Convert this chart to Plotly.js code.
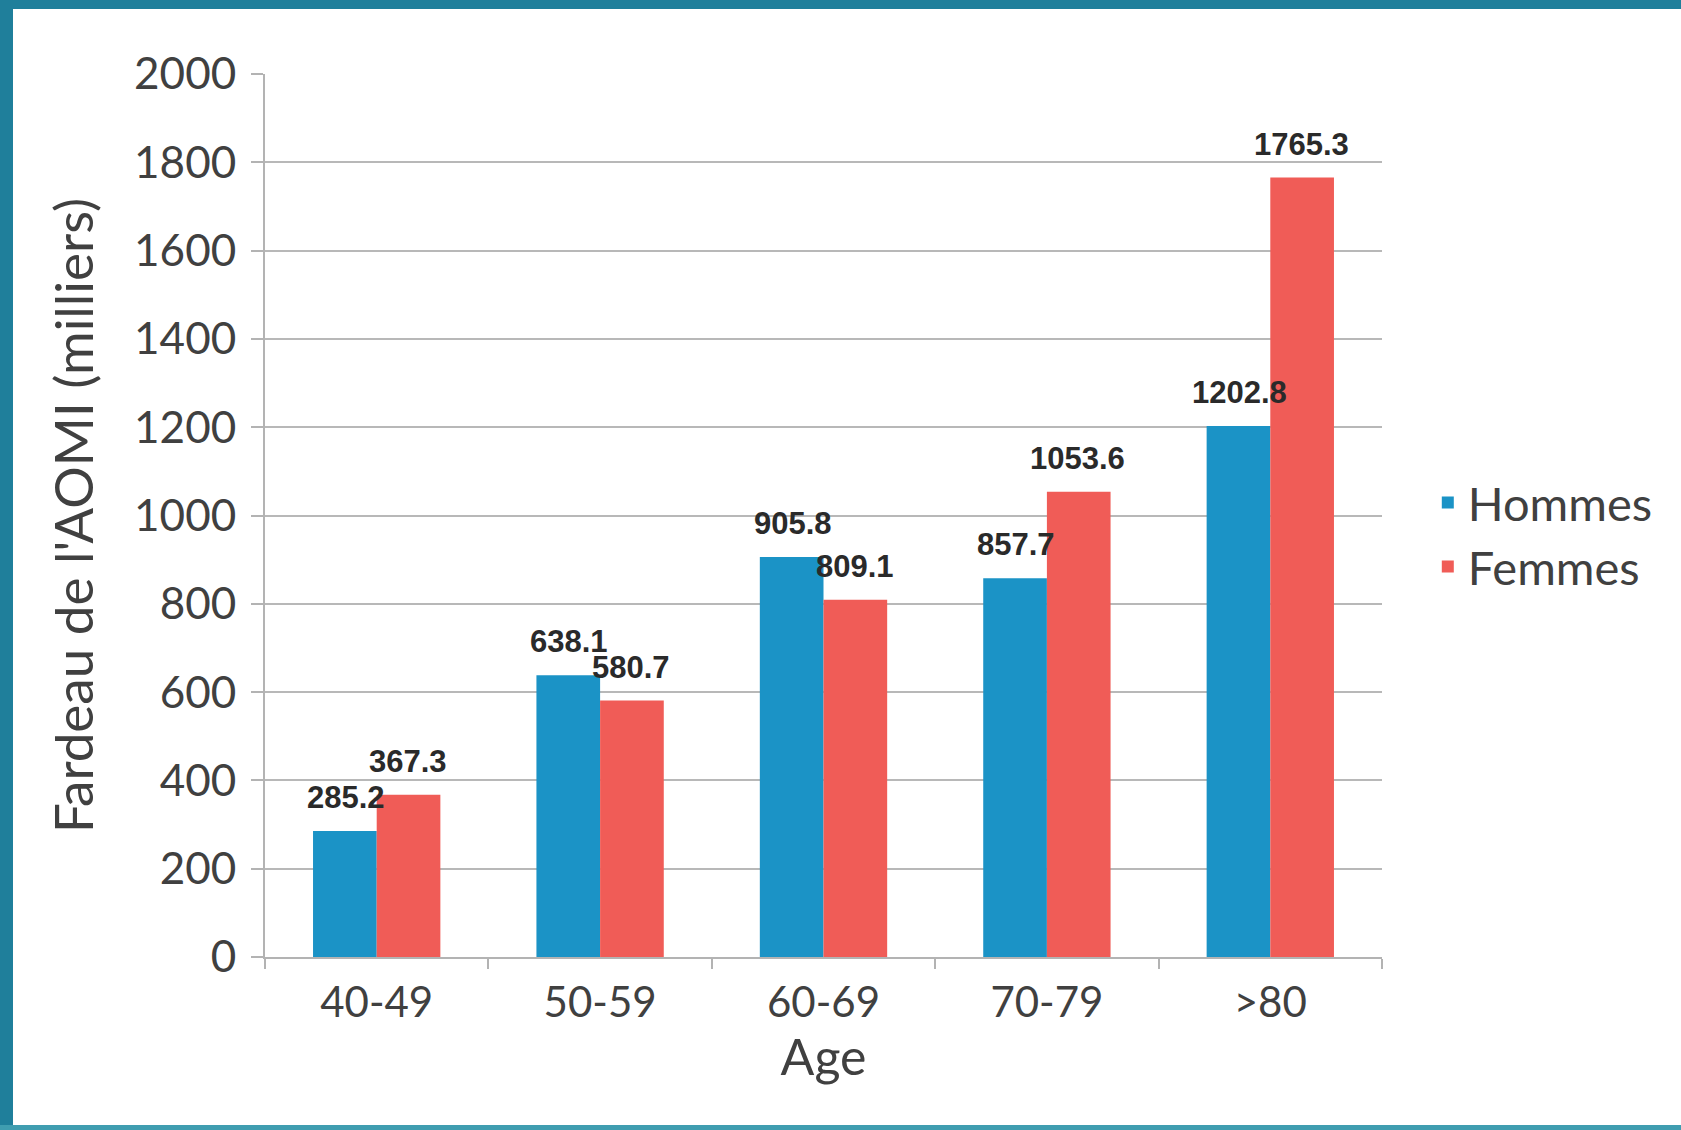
<!DOCTYPE html>
<html>
<head>
<meta charset="utf-8">
<script src="https://cdn.plot.ly/plotly-3.0.1.min.js"></script>
<style>
  html, body { margin: 0; padding: 0; background: #ffffff; }
  #chart { position: absolute; left: 0; top: 0; width: 1681px; height: 1130px; }
  .frame { position: absolute; background: #1f7f9b; pointer-events: none; z-index: 10; }
</style>
</head>
<body>
<div id="chart"></div>
<div class="frame" style="left:0;top:0;width:1681px;height:9px;"></div>
<div class="frame" style="left:0;top:0;width:13px;height:1130px;"></div>
<div class="frame" style="left:0;top:1125px;width:1681px;height:5px;background:#3f9db0;"></div>
<script>
const categories = ["40-49", "50-59", "60-69", "70-79", ">80"];
const hommes = [285.2, 638.1, 905.8, 857.7, 1202.8];
const femmes = [367.3, 580.7, 809.1, 1053.6, 1765.3];
const hommesLabels = ["285.2", "638.1", "905.8", "857.7", "1202.8"];
const femmesLabels = ["367.3", "580.7", "809.1", "1053.6", "1765.3"];
const yTicks = [0, 200, 400, 600, 800, 1000, 1200, 1400, 1600, 1800, 2000];

const colHommes = "#1b93c6";
const colFemmes = "#f05c57";
const textColor = "#404040";

const traces = [
  { type: "bar", name: "Hommes", x: categories, y: hommes, marker: { color: colHommes }, hoverinfo: "skip" },
  { type: "bar", name: "Femmes", x: categories, y: femmes, marker: { color: colFemmes }, hoverinfo: "skip" }
];

const labelFont = { family: "Liberation Sans, Arial, sans-serif", size: 31, color: "#2a2a2a", weight: "bold" };
const annotations = [];
categories.forEach((c, i) => {
  annotations.push({ x: c, y: hommes[i], text: "<b>" + hommesLabels[i] + "</b>", showarrow: false,
    xref: "x", yref: "y", xshift: -31, yshift: 14, yanchor: "bottom", font: labelFont });
  annotations.push({ x: c, y: femmes[i], text: "<b>" + femmesLabels[i] + "</b>", showarrow: false,
    xref: "x", yref: "y", xshift: 31, yshift: 14, yanchor: "bottom", font: labelFont });
});

const layout = {
  width: 1681, height: 1130,
  paper_bgcolor: "#ffffff", plot_bgcolor: "#ffffff",
  margin: { l: 265, r: 299, t: 74, b: 173, autoexpand: false },
  barmode: "group", bargap: 0.43, bargroupgap: 0,
  font: { family: "Lato, sans-serif", color: textColor },
  xaxis: {
    type: "category", categoryorder: "array", categoryarray: categories,
    showline: true, linecolor: "#b3b3b3", linewidth: 2,
    ticks: "outside", tickson: "boundaries", ticklen: 10, tickwidth: 2, tickcolor: "#b3b3b3",
    tickfont: { family: "Lato, sans-serif", size: 42, color: textColor },
    ticklabelstandoff: 8,
    title: { text: "Age", font: { family: "Lato, sans-serif", size: 50, color: textColor }, standoff: 6 },
    automargin: false, fixedrange: true
  },
  yaxis: {
    range: [0, 2000], tickvals: yTicks, ticktext: yTicks.map(String),
    showline: true, linecolor: "#b3b3b3", linewidth: 2,
    showgrid: true, gridcolor: "#b8b8b8", gridwidth: 2, zeroline: false,
    ticks: "outside", ticklen: 12, tickwidth: 2, tickcolor: "#b3b3b3",
    tickfont: { family: "Lato, sans-serif", size: 44, color: textColor },
    ticklabelstandoff: 6,
    title: { text: "Fardeau de l'AOMI (milliers)", font: { family: "Lato, sans-serif", size: 53, color: textColor }, standoff: 24 },
    automargin: false, fixedrange: true
  },
  legend: {
    x: 1.041, y: 0.478, xanchor: "left", yanchor: "middle",
    font: { family: "Lato, sans-serif", size: 47, color: textColor },
    bgcolor: "rgba(0,0,0,0)", itemwidth: 30, tracegroupgap: 0
  },
  annotations: annotations,
  showlegend: true
};

Plotly.newPlot("chart", traces, layout, { displayModeBar: false, staticPlot: true });
</script>
</body>
</html>
